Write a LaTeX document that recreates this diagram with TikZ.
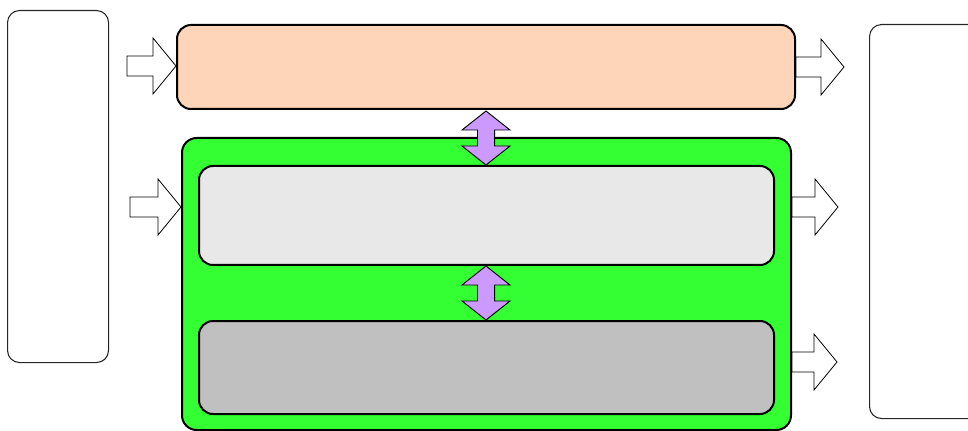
\documentclass[tikz,border=0pt]{standalone}
\usetikzlibrary{calc}
\definecolor{peach}{HTML}{FFD5B9}
\definecolor{lime}{HTML}{33FF33}
\definecolor{lgray}{HTML}{E8E8E8}
\definecolor{mgray}{HTML}{C0C0C0}
\definecolor{lilac}{HTML}{CC99FF}
\tikzset{
  thinbox/.style={draw=black!85, line width=0.8pt, rounded corners=9pt, inner sep=0pt, anchor=north west, fill=white},
  thickbox/.style={draw=black, line width=1.5pt, rounded corners=10.5pt, inner sep=0pt, anchor=north west},
  blockarrow/.style={draw=black, line width=0.6pt, fill=white, line join=miter},
  dblarrow/.style={draw=black, line width=0.7pt, fill=lilac, line join=miter}
}
\newcommand\hblockarrow[2]{%
  \draw[blockarrow] let \p1=(#1), \p2=(#2) in
    (\x1,\y1+7.5pt) -- (\x2-17.25pt,\y1+7.5pt) -- (\x2-17.25pt,\y1+21pt) -- (\x2,\y1)
    -- (\x2-17.25pt,\y1-21pt) -- (\x2-17.25pt,\y1-7.5pt) -- (\x1,\y1-7.5pt) -- cycle;}
\newcommand\vdblarrow[2]{%
  \draw[dblarrow] let \p1=(#1), \p2=(#2) in
    (\x1,\y1) -- (\x1+18pt,\y1-14.25pt) -- (\x1+6.4pt,\y1-14.25pt) -- (\x1+6.4pt,\y2+14.25pt)
    -- (\x1+18pt,\y2+14.25pt) -- (\x1,\y2) -- (\x1-18pt,\y2+14.25pt) -- (\x1-6.4pt,\y2+14.25pt)
    -- (\x1-6.4pt,\y1-14.25pt) -- (\x1-18pt,\y1-14.25pt) -- cycle;}
\begin{document}
\begin{tikzpicture}[x=0.75pt,y=-0.75pt]
\useasboundingbox (0,0) rectangle (968,431);
\clip (0,0) rectangle (968,431);
% boxes
\node[thinbox, minimum width=75.75pt, minimum height=264pt] (src) at (7,10) {};
\node[thinbox, minimum width=92pt, minimum height=295.5pt] (dst) at (869,24) {};
\node[thickbox, fill=peach, minimum width=463.5pt, minimum height=63pt] (top) at (176,24) {};
\node[thickbox, fill=lime, rounded corners=11pt, minimum width=456.75pt, minimum height=219pt] (grp) at (181,137) {};
\node[thickbox, fill=lgray, minimum width=431.25pt, minimum height=74.25pt] (mid) at (198,165) {};
\node[thickbox, fill=mgray, minimum width=431.25pt, minimum height=69.75pt] (bot) at (198,320) {};
% arrow anchor coordinates
\coordinate (a1s) at (127,66);
\coordinate (a2s) at (130,207);
\coordinate (a2e) at (grp.west |- a2s);
\coordinate (a3e) at (844,66);
\coordinate (a4y) at (0,207);
\coordinate (a4s) at (grp.east |- a4y);
\coordinate (a4e) at (838,207);
\coordinate (a5y) at (0,362);
\coordinate (a5s) at (grp.east |- a5y);
\coordinate (a5e) at (837,362);
% block arrows
\hblockarrow{a1s}{top.west}
\hblockarrow{a2s}{a2e}
\hblockarrow{top.east}{a3e}
\hblockarrow{a4s}{a4e}
\hblockarrow{a5s}{a5e}
% double arrows
\coordinate (d1a) at ($(top.south)+(0,1)$);
\coordinate (d1b) at (top.south |- mid.north);
\coordinate (d2a) at (top.south |- mid.south);
\coordinate (d2b) at (top.south |- bot.north);
\vdblarrow{d1a}{d1b}
\vdblarrow{d2a}{d2b}
\end{tikzpicture}
\end{document}
